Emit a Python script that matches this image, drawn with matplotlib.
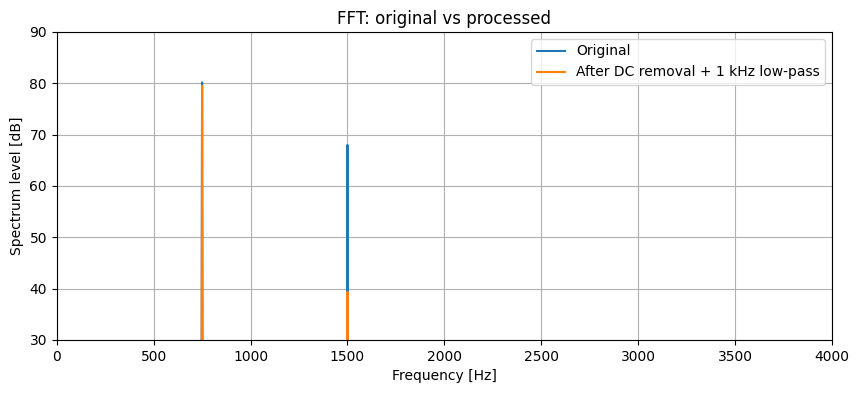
import matplotlib.pyplot as plt

# spectrum (floor is below the visible range)
freq = [0, 746, 750, 754, 1496, 1500, 1504, 4000]
level_orig = [-20, -20, 80.2, -20, -20, 68.0, -20, -20]
level_proc = [-20, -20, 79.5, -20, -20, 39.4, -20, -20]

fig, ax = plt.subplots(figsize=(8.59, 3.93), dpi=100)
fig.subplots_adjust(left=0.066, right=0.9686, top=0.9186, bottom=0.1349)

ax.plot(freq, level_orig, label="Original")
ax.plot(freq, level_proc, label="After DC removal + 1 kHz low-pass")
ax.set_xlim(0, 4000)
ax.set_ylim(30, 90)
ax.set_xlabel("Frequency [Hz]")
ax.set_ylabel("Spectrum level [dB]")
ax.set_title("FFT: original vs processed")
ax.grid(True)
ax.legend(loc="upper right")

fig.savefig("out.png")
